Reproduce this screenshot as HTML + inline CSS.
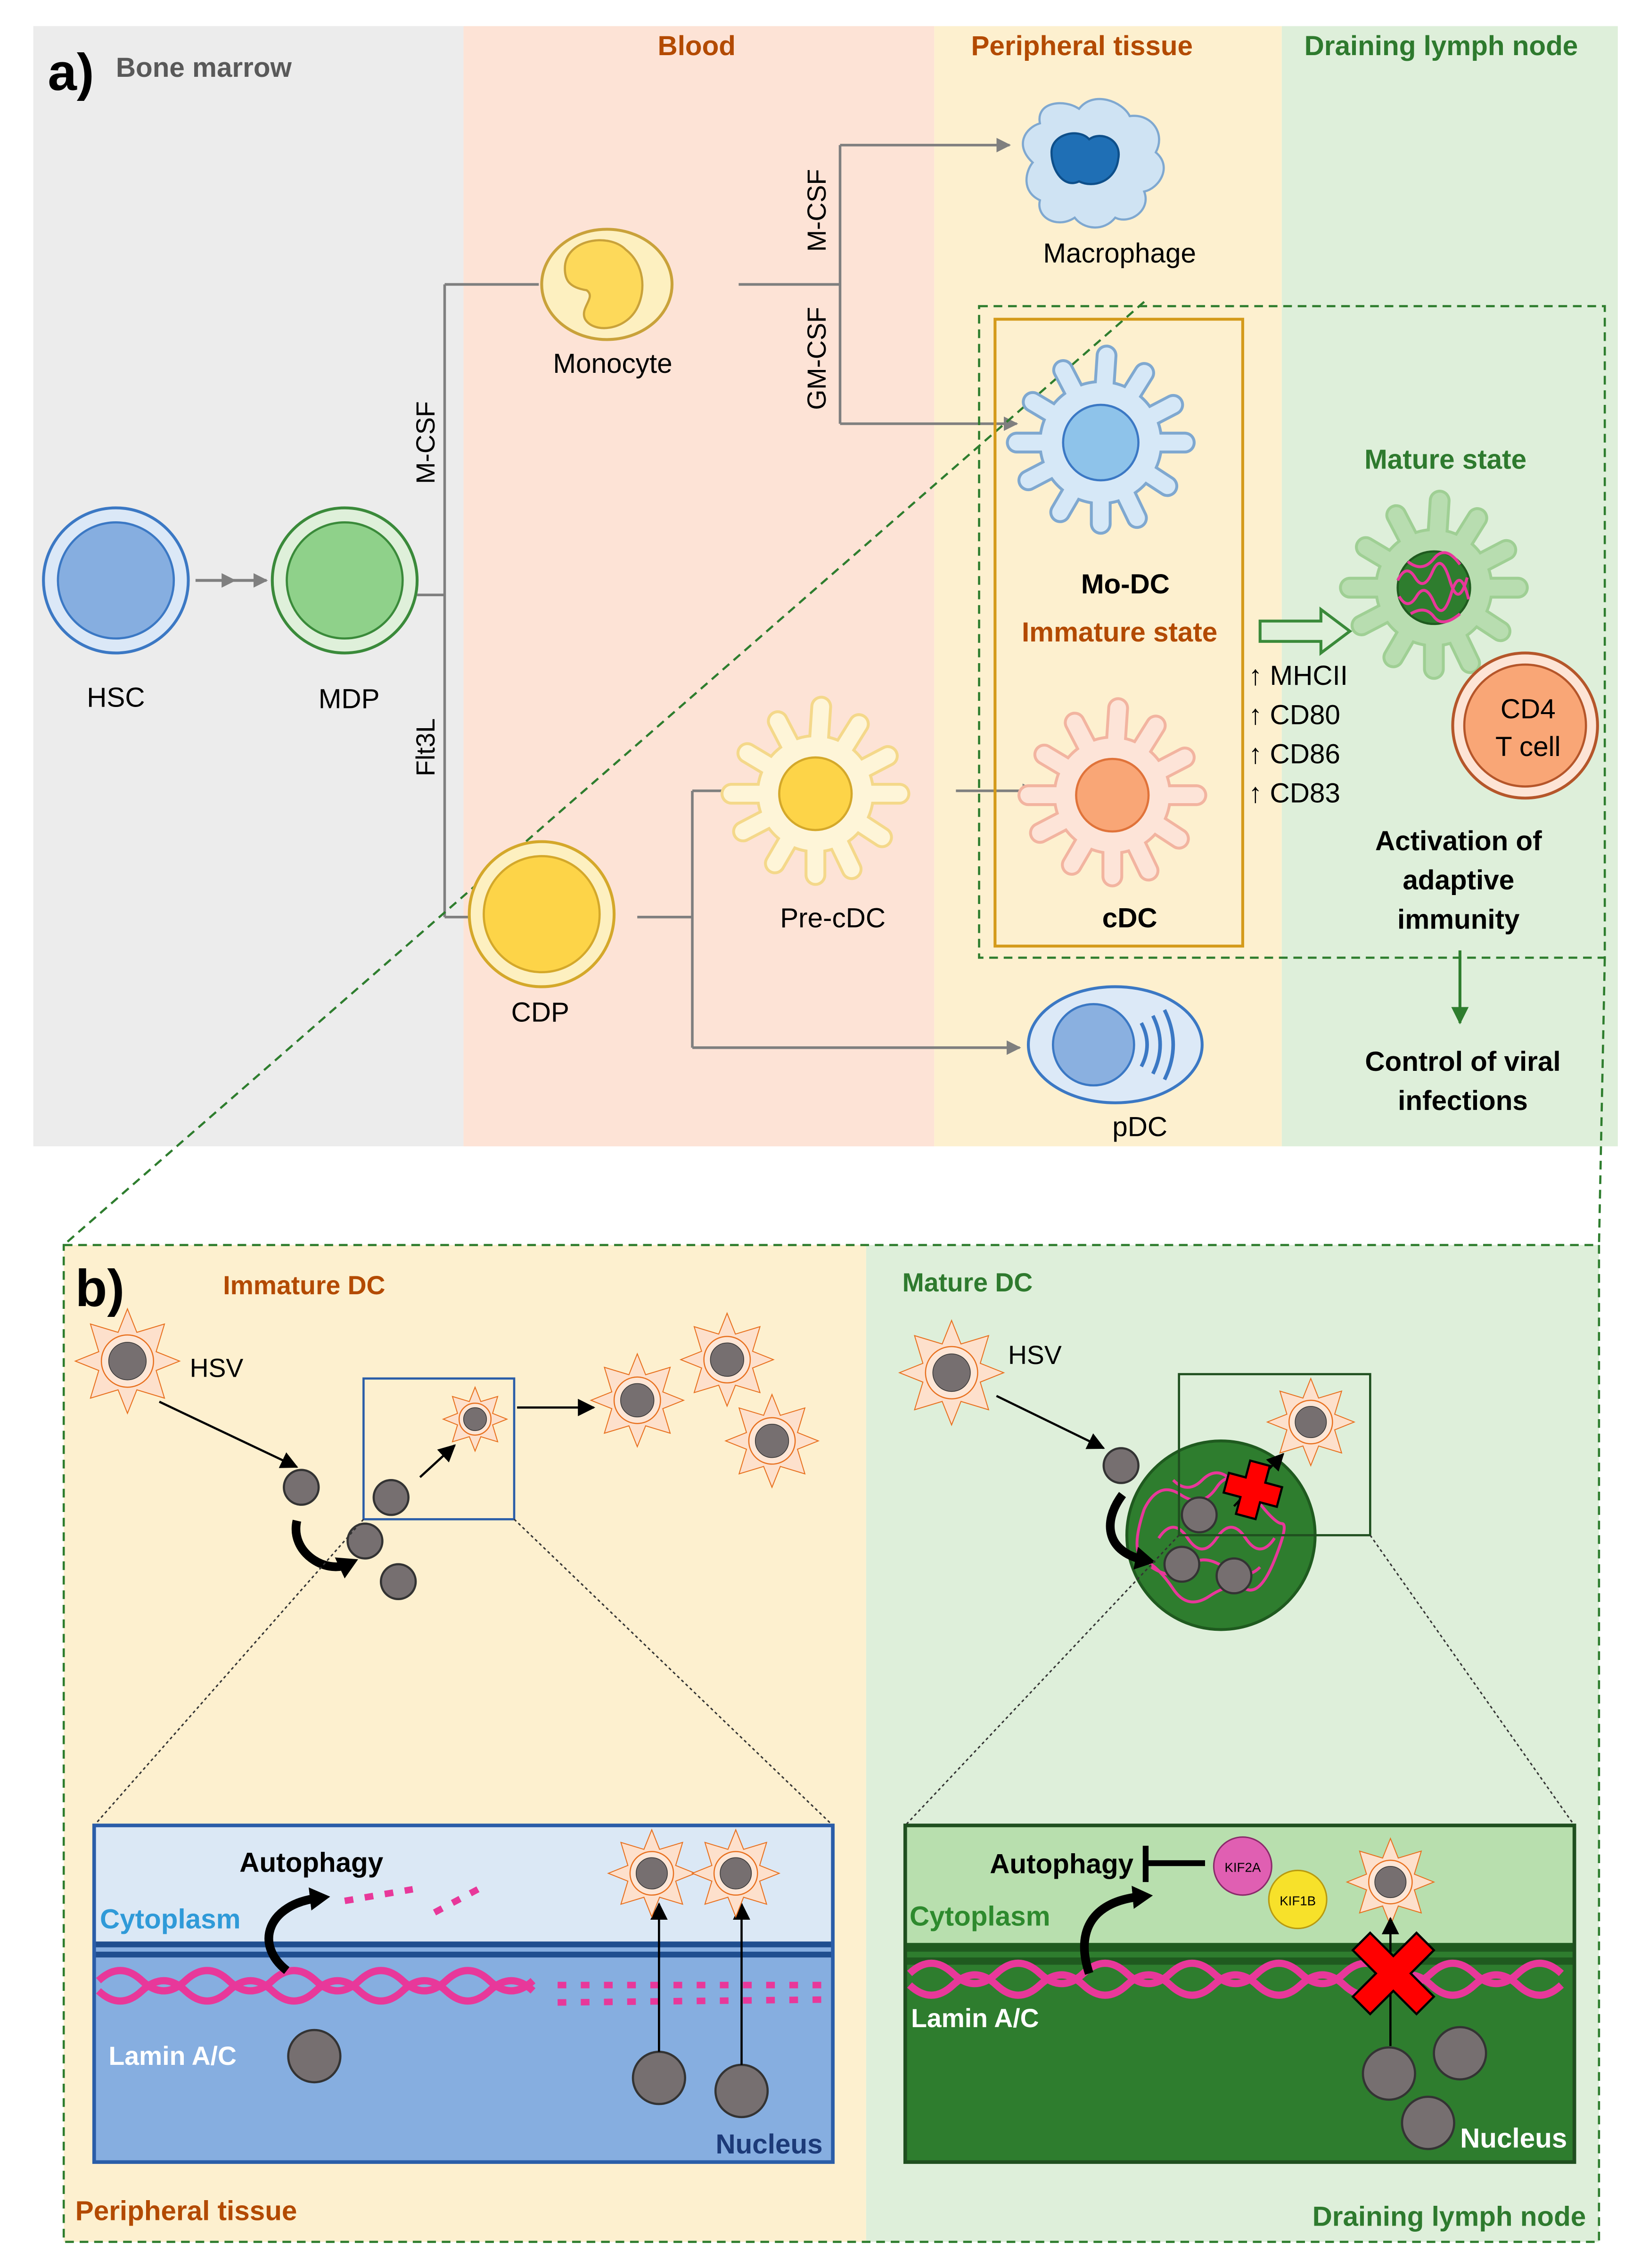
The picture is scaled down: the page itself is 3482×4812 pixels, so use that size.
<!DOCTYPE html>
<html><head><meta charset="utf-8"><style>
html,body{margin:0;padding:0;background:#fff;}
svg{display:block;}
text{font-family:"Liberation Sans",sans-serif;}
</style></head><body>
<svg width="3482" height="4812" viewBox="0 0 1133 1563" preserveAspectRatio="none" xmlns="http://www.w3.org/2000/svg">
<defs>
<marker id="ag" markerWidth="10" markerHeight="10" refX="9" refY="5" orient="auto" markerUnits="userSpaceOnUse"><path d="M0,0 L10,5 L0,10 z" fill="#7f7f7f"/></marker>
<marker id="ab" markerWidth="12" markerHeight="12" refX="11" refY="6" orient="auto" markerUnits="userSpaceOnUse"><path d="M0,0 L12,6 L0,12 z" fill="#000"/></marker>
<marker id="agr" markerWidth="12" markerHeight="12" refX="11" refY="6" orient="auto" markerUnits="userSpaceOnUse"><path d="M0,0 L12,6 L0,12 z" fill="#2e7d2e"/></marker>
<marker id="abig" markerWidth="20" markerHeight="20" refX="6" refY="10" orient="auto" markerUnits="userSpaceOnUse"><path d="M0,2 L14,10 L0,18 z" fill="#000"/></marker>
<g id="arms">
<line x1="0" y1="0" x2="58" y2="0"/><line x1="0" y1="0" x2="46" y2="30"/><line x1="0" y1="0" x2="25" y2="52"/><line x1="0" y1="0" x2="0" y2="56"/><line x1="0" y1="0" x2="-28" y2="48"/><line x1="0" y1="0" x2="-50" y2="26"/><line x1="0" y1="0" x2="-58" y2="0"/><line x1="0" y1="0" x2="-47" y2="-28"/><line x1="0" y1="0" x2="-26" y2="-50"/><line x1="0" y1="0" x2="4" y2="-60"/><line x1="0" y1="0" x2="30" y2="-48"/><line x1="0" y1="0" x2="50" y2="-26"/>
</g>
<g id="hsv">
<polygon points="0,-1 0.18,-0.55 0.71,-0.71 0.55,-0.18 1,0 0.55,0.18 0.71,0.71 0.18,0.55 0,1 -0.18,0.55 -0.71,0.71 -0.55,0.18 -1,0 -0.55,-0.18 -0.71,-0.71 -0.18,-0.55" fill="#fde0cc" stroke="#e8701e" stroke-width="2" vector-effect="non-scaling-stroke"/>
<circle r="0.5" fill="#fde6d6" stroke="#e8701e" stroke-width="2.5" vector-effect="non-scaling-stroke"/>
<circle r="0.36" fill="#766f70" stroke="#333" stroke-width="1.5" vector-effect="non-scaling-stroke"/>
</g>
</defs>

<rect x="23" y="18" width="297" height="772" fill="#ececec"/>
<rect x="320" y="18" width="325" height="772" fill="#fde3d6"/>
<rect x="645" y="18" width="240" height="772" fill="#fdf0cf"/>
<rect x="885" y="18" width="232" height="772" fill="#deefda"/>

<text x="33" y="62" font-size="36" font-weight="bold">a)</text>
<text x="80" y="53" font-size="19" font-weight="bold" fill="#595959">Bone marrow</text>
<text x="481" y="38" font-size="19" font-weight="bold" fill="#b34a00" text-anchor="middle">Blood</text>
<text x="747" y="38" font-size="19" font-weight="bold" fill="#b34a00" text-anchor="middle">Peripheral tissue</text>
<text x="995" y="38" font-size="19" font-weight="bold" fill="#2e7a2e" text-anchor="middle">Draining lymph node</text>

<circle cx="80" cy="400" r="50" fill="#dbe8f7" stroke="#3b78c4" stroke-width="2"/>
<circle cx="80" cy="400" r="40" fill="#86aee0" stroke="#3b78c4" stroke-width="1.5"/>
<circle cx="238" cy="400" r="50" fill="#dff0da" stroke="#3a8a3a" stroke-width="2"/>
<circle cx="238" cy="400" r="40" fill="#8fd18a" stroke="#3a8a3a" stroke-width="1.5"/>
<line x1="135" y1="400" x2="162" y2="400" stroke="#7f7f7f" stroke-width="2" marker-end="url(#ag)"/>
<line x1="160" y1="400" x2="184" y2="400" stroke="#7f7f7f" stroke-width="2" marker-end="url(#ag)"/>
<text x="80" y="487" font-size="19" text-anchor="middle">HSC</text>
<text x="241" y="488" font-size="19" text-anchor="middle">MDP</text>

<g stroke="#7f7f7f" stroke-width="1.8" fill="none">
<line x1="288" y1="410" x2="307" y2="410"/>
<line x1="307" y1="196" x2="307" y2="632"/>
<line x1="307" y1="196" x2="372" y2="196"/>
<line x1="307" y1="632" x2="325" y2="632"/>
<line x1="510" y1="196" x2="580" y2="196"/>
<line x1="580" y1="100" x2="580" y2="292"/>
<line x1="580" y1="100" x2="697" y2="100" marker-end="url(#ag)"/>
<line x1="580" y1="292" x2="702" y2="292" marker-end="url(#ag)"/>
<line x1="440" y1="632" x2="478" y2="632"/>
<line x1="478" y1="545" x2="478" y2="722"/>
<line x1="478" y1="545" x2="518" y2="545" marker-end="url(#ag)"/>
<line x1="478" y1="722" x2="704" y2="722" marker-end="url(#ag)"/>
<line x1="660" y1="545" x2="715" y2="545" marker-end="url(#ag)"/>
</g>
<text transform="translate(300,305) rotate(-90)" font-size="18" text-anchor="middle">M-CSF</text>
<text transform="translate(300,515) rotate(-90)" font-size="18" text-anchor="middle">Flt3L</text>
<text transform="translate(570,145) rotate(-90)" font-size="18" text-anchor="middle">M-CSF</text>
<text transform="translate(570,247) rotate(-90)" font-size="18" text-anchor="middle">GM-CSF</text>

<ellipse cx="419" cy="196" rx="45" ry="38" fill="#fdf0c0" stroke="#c9a23a" stroke-width="2"/>
<path d="M390,185 C390,165 420,160 432,172 C445,182 446,200 440,212 C432,228 410,230 404,220 C400,212 412,205 405,200 C392,198 390,192 390,185 z" fill="#fdd95a" stroke="#c9a23a" stroke-width="1.5"/>
<text x="423" y="257" font-size="19" text-anchor="middle">Monocyte</text>

<path d="M718,85 C715,70 735,68 745,75 C755,62 775,70 780,80 C795,78 805,92 798,105 C810,115 800,130 790,132 C795,145 780,155 770,150 C762,160 748,158 742,150 C730,158 715,150 718,138 C705,132 708,118 713,112 C700,100 708,88 718,85 z" fill="#cfe3f3" stroke="#7fa8d0" stroke-width="1.5"/>
<path d="M726,105 C726,92 745,88 752,96 C760,90 775,96 772,110 C770,125 755,130 745,125 C735,130 726,118 726,105 z" fill="#1f6fb5" stroke="#0e4f8a" stroke-width="1.5"/>
<text x="773" y="181" font-size="19" text-anchor="middle">Macrophage</text>

<rect x="676" y="211" width="432" height="449" fill="none" stroke="#2e7d2e" stroke-width="1.5" stroke-dasharray="6,4"/>
<line x1="790" y1="208" x2="44" y2="858" stroke="#2e7d2e" stroke-width="1.5" stroke-dasharray="6,4"/>
<line x1="1108" y1="660" x2="1104" y2="858" stroke="#2e7d2e" stroke-width="1.5" stroke-dasharray="6,4"/>

<rect x="687" y="220" width="171" height="432" fill="none" stroke="#d49a1a" stroke-width="2"/>

<g transform="translate(760,305)">
<use href="#arms" stroke="#7fa8d0" stroke-width="15" stroke-linecap="round"/>
<circle r="42" fill="#d6e8f7" stroke="#7fa8d0" stroke-width="2"/>
<use href="#arms" stroke="#d6e8f7" stroke-width="11" stroke-linecap="round"/>
<circle r="26" fill="#8ec3ea" stroke="#3b78c4" stroke-width="1.5"/>
</g>
<text x="777" y="409" font-size="19" font-weight="bold" text-anchor="middle">Mo-DC</text>
<text x="773" y="442" font-size="19" font-weight="bold" fill="#b34a00" text-anchor="middle">Immature state</text>

<g transform="translate(768,548)">
<use href="#arms" stroke="#f2b4a0" stroke-width="15" stroke-linecap="round"/>
<circle r="40" fill="#fde4d8" stroke="#f2b4a0" stroke-width="2"/>
<use href="#arms" stroke="#fde4d8" stroke-width="11" stroke-linecap="round"/>
<circle r="25" fill="#f9a676" stroke="#e0733a" stroke-width="1.5"/>
</g>
<text x="780" y="639" font-size="19" font-weight="bold" text-anchor="middle">cDC</text>

<g transform="translate(563,547)">
<use href="#arms" stroke="#f4d88a" stroke-width="15" stroke-linecap="round"/>
<circle r="40" fill="#fef5d8" stroke="#f4d88a" stroke-width="2"/>
<use href="#arms" stroke="#fef5d8" stroke-width="11" stroke-linecap="round"/>
<circle r="25" fill="#fdd448" stroke="#d4a82a" stroke-width="1.5"/>
</g>
<text x="575" y="639" font-size="19" text-anchor="middle">Pre-cDC</text>

<circle cx="374" cy="630" r="50" fill="#fdf0c0" stroke="#d4a82a" stroke-width="2"/>
<circle cx="374" cy="630" r="40" fill="#fdd448" stroke="#d4a82a" stroke-width="1.5"/>
<text x="373" y="704" font-size="19" text-anchor="middle">CDP</text>

<ellipse cx="770" cy="720" rx="60" ry="40" fill="#dce9f7" stroke="#3b78c4" stroke-width="2"/>
<circle cx="755" cy="720" r="28" fill="#8ab0e0" stroke="#3b78c4" stroke-width="1.5"/>
<path d="M788,705 Q796,720 788,735 M796,700 Q806,720 796,740 M804,696 Q816,720 804,744" fill="none" stroke="#3b78c4" stroke-width="2.5"/>
<text x="787" y="783" font-size="19" text-anchor="middle">pDC</text>

<path d="M870,428 L912,428 L912,420 L932,435 L912,450 L912,442 L870,442 z" fill="#dff0da" stroke="#3a8a3a" stroke-width="2"/>
<g font-size="19">
<text x="862" y="472">↑ MHCII</text>
<text x="862" y="499">↑ CD80</text>
<text x="862" y="526">↑ CD86</text>
<text x="862" y="553">↑ CD83</text>
</g>

<text x="998" y="323" font-size="19" font-weight="bold" fill="#2e7a2e" text-anchor="middle">Mature state</text>
<g transform="translate(990,405)">
<use href="#arms" stroke="#9fcf94" stroke-width="15" stroke-linecap="round" transform="scale(1.0)"/>
<circle r="40" fill="#b8ddb0" stroke="#9fcf94" stroke-width="2"/>
<use href="#arms" stroke="#b8ddb0" stroke-width="11" stroke-linecap="round" transform="scale(1.0)"/>
<circle r="25" fill="#2e7d2e" stroke="#1f5a1f" stroke-width="1.5"/>
<path d="M-25,-5 q6,-12 12,-2 t12,-4 t12,6 t12,-2 M-24,6 q6,10 12,0 t12,4 t12,-6 t12,4 M-18,-18 q10,8 18,-2 t18,4 M-16,18 q10,-6 16,2 t18,-2" fill="none" stroke="#e8389a" stroke-width="2"/>
</g>

<circle cx="1053" cy="500" r="50" fill="#fde4d5" stroke="#b5562a" stroke-width="2"/>
<circle cx="1053" cy="500" r="42" fill="#f9a676" stroke="#b5562a" stroke-width="1.5"/>
<text x="1055" y="495" font-size="19" text-anchor="middle">CD4</text>
<text x="1055" y="521" font-size="19" text-anchor="middle">T cell</text>

<g font-size="19" font-weight="bold" text-anchor="middle">
<text x="1007" y="586">Activation of</text>
<text x="1007" y="613">adaptive</text>
<text x="1007" y="640">immunity</text>
<text x="1010" y="738">Control of viral</text>
<text x="1010" y="765">infections</text>
</g>
<line x1="1008" y1="655" x2="1008" y2="705" stroke="#2e7d2e" stroke-width="2" marker-end="url(#agr)"/>

<rect x="44" y="858" width="554" height="687" fill="#fdf0cf"/>
<rect x="598" y="858" width="506" height="687" fill="#deefda"/>
<rect x="44" y="858" width="1060" height="687" fill="none" stroke="#2e7d2e" stroke-width="1.5" stroke-dasharray="6,4"/>

<text x="52" y="900" font-size="36" font-weight="bold">b)</text>
<text x="210" y="892" font-size="18" font-weight="bold" fill="#b34a00" text-anchor="middle">Immature DC</text>
<text x="668" y="890" font-size="18" font-weight="bold" fill="#2e7a2e" text-anchor="middle">Mature DC</text>

<use href="#hsv" transform="translate(88,938) scale(36)"/>
<text x="131" y="949" font-size="18">HSV</text>
<line x1="110" y1="966" x2="205" y2="1011" stroke="#000" stroke-width="1.5" marker-end="url(#ab)"/>
<g fill="#766f70" stroke="#333" stroke-width="1.5">
<circle cx="208" cy="1025" r="12"/><circle cx="270" cy="1032" r="12"/><circle cx="252" cy="1062" r="12"/><circle cx="275" cy="1090" r="12"/>
</g>
<path d="M205,1048 C200,1070 225,1085 240,1078" fill="none" stroke="#000" stroke-width="6" marker-end="url(#abig)"/>
<rect x="251" y="950" width="104" height="97" fill="none" stroke="#2a5da8" stroke-width="1.5"/>
<use href="#hsv" transform="translate(328,978) scale(22)"/>
<line x1="290" y1="1018" x2="314" y2="996" stroke="#000" stroke-width="1.5" marker-end="url(#ab)"/>
<line x1="357" y1="970" x2="410" y2="970" stroke="#000" stroke-width="1.5" marker-end="url(#ab)"/>
<use href="#hsv" transform="translate(440,965) scale(32)"/>
<use href="#hsv" transform="translate(502,937) scale(32)"/>
<use href="#hsv" transform="translate(533,993) scale(32)"/>
<line x1="251" y1="1047" x2="65" y2="1258" stroke="#333" stroke-width="1" stroke-dasharray="2,2"/>
<line x1="355" y1="1047" x2="575" y2="1258" stroke="#333" stroke-width="1" stroke-dasharray="2,2"/>

<rect x="65" y="1258" width="510" height="232" fill="#86aee0"/>
<rect x="65" y="1258" width="510" height="82" fill="#dbe8f5"/>
<rect x="65" y="1338" width="510" height="4" fill="#1f4e8f"/>
<rect x="65" y="1345" width="510" height="4" fill="#1f4e8f"/>
<rect x="65" y="1258" width="510" height="232" fill="none" stroke="#2a5da8" stroke-width="2.5"/>
<path d="M68,1365 q15,-14 30,0 t30,0 t30,0 t30,0 t30,0 t30,0 t30,0 t30,0 t30,0 t30,0" fill="none" stroke="#e8389a" stroke-width="5"/>
<path d="M68,1372 q15,14 30,0 t30,0 t30,0 t30,0 t30,0 t30,0 t30,0 t30,0 t30,0 t30,0" fill="none" stroke="#e8389a" stroke-width="5"/>
<path d="M385,1368 L570,1368 M385,1380 L570,1378" fill="none" stroke="#e8389a" stroke-width="4.5" stroke-dasharray="6,10"/>
<path d="M238,1310 L285,1302 M300,1318 L330,1302" fill="none" stroke="#e8389a" stroke-width="4.5" stroke-dasharray="6,8"/>
<text x="215" y="1290" font-size="19" font-weight="bold" text-anchor="middle">Autophagy</text>
<text x="69" y="1329" font-size="19" font-weight="bold" fill="#2f9ad8">Cytoplasm</text>
<text x="75" y="1423" font-size="18" font-weight="bold" fill="#fff">Lamin A/C</text>
<text x="568" y="1484" font-size="19" font-weight="bold" fill="#1c3a78" text-anchor="end">Nucleus</text>
<path d="M198,1358 C175,1340 185,1312 220,1308" fill="none" stroke="#000" stroke-width="6" marker-end="url(#abig)"/>
<g fill="#766f70" stroke="#333" stroke-width="1.5">
<circle cx="217" cy="1417" r="18"/><circle cx="455" cy="1432" r="18"/><circle cx="512" cy="1441" r="18"/>
</g>
<line x1="455" y1="1414" x2="455" y2="1312" stroke="#000" stroke-width="1.5" marker-end="url(#ab)"/>
<line x1="512" y1="1423" x2="512" y2="1312" stroke="#000" stroke-width="1.5" marker-end="url(#ab)"/>
<use href="#hsv" transform="translate(450,1291) scale(30)"/>
<use href="#hsv" transform="translate(508,1291) scale(30)"/>
<text x="52" y="1530" font-size="19" font-weight="bold" fill="#b34a00">Peripheral tissue</text>

<use href="#hsv" transform="translate(657,946) scale(36)"/>
<text x="696" y="940" font-size="18">HSV</text>
<line x1="688" y1="962" x2="762" y2="998" stroke="#000" stroke-width="1.5" marker-end="url(#ab)"/>
<circle cx="843" cy="1058" r="65" fill="#2e7d2e" stroke="#1f5a1f" stroke-width="2"/>
<path d="M790,1040 q10,-20 25,-10 t25,-5 t25,5 t20,20 t-5,25 t-20,20 t-25,5 t-25,-5 t-20,-20 t0,-35 M800,1060 q10,-15 20,0 t20,0 t20,0 t20,0 M795,1080 q15,10 25,0 t25,0 t25,0 M810,1020 q10,10 20,0 t20,0 t20,0" fill="none" stroke="#e8389a" stroke-width="2"/>
<g fill="#766f70" stroke="#333" stroke-width="1.5">
<circle cx="774" cy="1010" r="12"/><circle cx="828" cy="1044" r="12"/><circle cx="816" cy="1078" r="12"/><circle cx="852" cy="1086" r="12"/>
</g>
<path d="M775,1030 C760,1050 765,1070 790,1075" fill="none" stroke="#000" stroke-width="6" marker-end="url(#abig)"/>
<rect x="814" y="947" width="132" height="111" fill="none" stroke="#1f4f1f" stroke-width="1.5"/>
<use href="#hsv" transform="translate(905,980) scale(30)"/>
<line x1="852" y1="1038" x2="886" y2="1002" stroke="#000" stroke-width="1.5" marker-end="url(#ab)"/>
<path d="M858,1008 h14 v12 h12 v14 h-12 v12 h-14 v-12 h-12 v-14 h12 z" fill="#ff0000" stroke="#000" stroke-width="1.5" transform="rotate(15 866 1027)"/>
<line x1="814" y1="1058" x2="625" y2="1258" stroke="#333" stroke-width="1" stroke-dasharray="2,2"/>
<line x1="946" y1="1058" x2="1087" y2="1258" stroke="#333" stroke-width="1" stroke-dasharray="2,2"/>

<rect x="625" y="1258" width="462" height="232" fill="#2e7d2e"/>
<rect x="625" y="1258" width="462" height="81" fill="#b8dfae"/>
<rect x="625" y="1339" width="462" height="6" fill="#1f5a1f"/>
<rect x="625" y="1349" width="462" height="5" fill="#1f5a1f"/>
<rect x="625" y="1258" width="462" height="232" fill="none" stroke="#1f4f1f" stroke-width="2.5"/>
<path d="M628,1360 q15,-14 30,0 t30,0 t30,0 t30,0 t30,0 t30,0 t30,0 t30,0 t30,0 t30,0 t30,0 t30,0 t30,0 t30,0 t30,0" fill="none" stroke="#e8389a" stroke-width="5"/>
<path d="M628,1368 q15,14 30,0 t30,0 t30,0 t30,0 t30,0 t30,0 t30,0 t30,0 t30,0 t30,0 t30,0 t30,0 t30,0 t30,0 t30,0" fill="none" stroke="#e8389a" stroke-width="5"/>
<text x="733" y="1291" font-size="19" font-weight="bold" text-anchor="middle">Autophagy</text>
<line x1="790" y1="1284" x2="832" y2="1284" stroke="#000" stroke-width="4"/>
<line x1="791" y1="1272" x2="791" y2="1297" stroke="#000" stroke-width="4"/>
<circle cx="858" cy="1286" r="20" fill="#e05fb2" stroke="#8a2a6a" stroke-width="1"/>
<text x="858" y="1290" font-size="9" text-anchor="middle">KIF2A</text>
<circle cx="896" cy="1309" r="20" fill="#f7e12a" stroke="#b89a10" stroke-width="1"/>
<text x="896" y="1313" font-size="9" text-anchor="middle">KIF1B</text>
<text x="628" y="1327" font-size="19" font-weight="bold" fill="#2e8a2e">Cytoplasm</text>
<text x="629" y="1397" font-size="18" font-weight="bold" fill="#fff">Lamin A/C</text>
<text x="1082" y="1480" font-size="19" font-weight="bold" fill="#fff" text-anchor="end">Nucleus</text>
<path d="M752,1360 C742,1330 755,1310 788,1307" fill="none" stroke="#000" stroke-width="6" marker-end="url(#abig)"/>
<use href="#hsv" transform="translate(960,1297) scale(30)"/>
<line x1="960" y1="1410" x2="960" y2="1322" stroke="#000" stroke-width="1.5" marker-end="url(#ab)"/>
<path d="M946,1332 L962,1348 L978,1332 L990,1344 L974,1360 L990,1376 L978,1388 L962,1372 L946,1388 L934,1376 L950,1360 L934,1344 z" fill="#ff0000" stroke="#000" stroke-width="1.5"/>
<g fill="#766f70" stroke="#333" stroke-width="1.5">
<circle cx="959" cy="1429" r="18"/><circle cx="1008" cy="1415" r="18"/><circle cx="986" cy="1463" r="18"/>
</g>
<text x="1095" y="1534" font-size="19" font-weight="bold" fill="#2e7a2e" text-anchor="end">Draining lymph node</text>
</svg>
</body></html>
